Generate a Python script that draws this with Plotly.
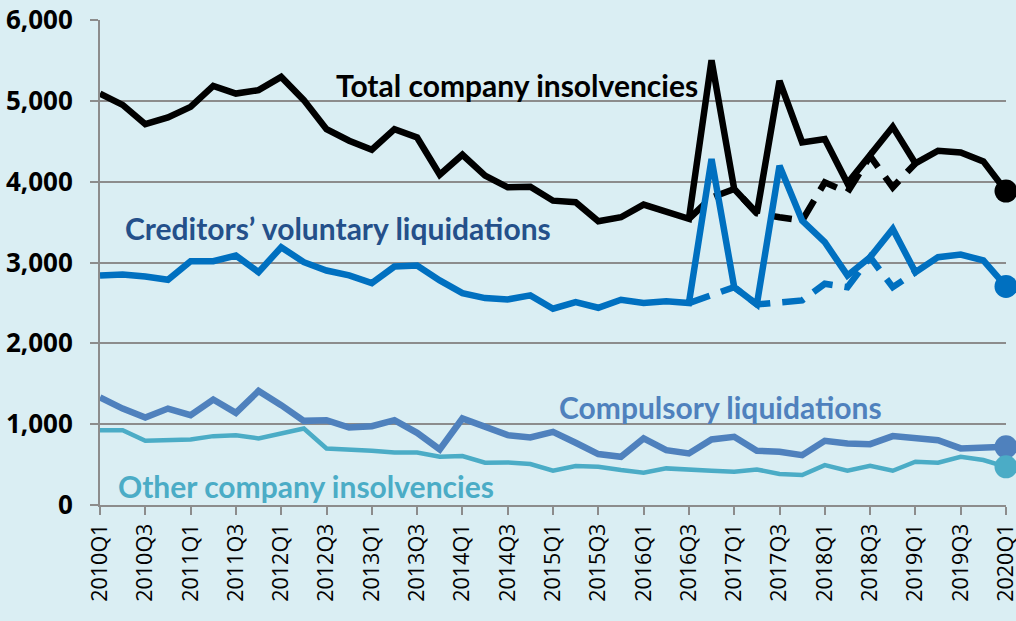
import plotly.graph_objects as go

quarters = ["2010Q1","2010Q2","2010Q3","2010Q4","2011Q1","2011Q2","2011Q3","2011Q4",
            "2012Q1","2012Q2","2012Q3","2012Q4","2013Q1","2013Q2","2013Q3","2013Q4",
            "2014Q1","2014Q2","2014Q3","2014Q4","2015Q1","2015Q2","2015Q3","2015Q4",
            "2016Q1","2016Q2","2016Q3","2016Q4","2017Q1","2017Q2","2017Q3","2017Q4",
            "2018Q1","2018Q2","2018Q3","2018Q4","2019Q1","2019Q2","2019Q3","2019Q4",
            "2020Q1"]

total = [5090, 4950, 4712, 4794, 4926, 5185, 5090, 5132, 5296, 5009, 4650, 4506,
         4395, 4650, 4547, 4086, 4333, 4074, 3930, 3938, 3765, 3745, 3510, 3560,
         3716, 3630, 3540, 5502, 3910, 3609, 5247, 4486, 4527, 3980, 4316, 4679,
         4226, 4383, 4362, 4251, 3883]
total_excl = [None] * 26 + [3540, 3805, 3910, 3609, 3560, 3519, 3992, 3868, 4316, 3930, 4226] + [None] * 4

cvl = [2840, 2852, 2827, 2786, 3016, 3016, 3086, 2880, 3189, 3004, 2901, 2840,
       2745, 2950, 2963, 2778, 2621, 2560, 2543, 2593, 2428, 2510, 2440, 2539,
       2498, 2522, 2498, 4280, 2695, 2481, 4197, 3519, 3251, 2840, 3066, 3416,
       2880, 3066, 3099, 3025, 2704]
cvl_excl = [None] * 26 + [2498, 2593, 2695, 2481, 2510, 2531, 2737, 2695, 3066, 2695, 2880] + [None] * 4

compulsory = [1330, 1193, 1082, 1193, 1111, 1305, 1140, 1411, 1235, 1041, 1049, 959,
              975, 1049, 893, 687, 1070, 975, 864, 835, 905, 770, 630, 597,
              823, 679, 638, 811, 844, 671, 658, 617, 794, 761, 753, 852,
              823, 802, 700, 700, 720]

other = [926, 926, 794, 802, 811, 852, 864, 823, 885, 946, 700, 691,
         671, 650, 650, 597, 605, 523, 527, 506, 424, 481, 473, 432,
         399, 453, 432, 424, 411, 440, 383, 370, 494, 424, 485, 424,
         535, 523, 597, 556, 473]

tick_labels = quarters[::2]
y_ticks = [0, 1000, 2000, 3000, 4000, 5000, 6000]

BLACK = "#000000"
CVL_C = "#0070C0"
CVL_TXT = "#24508A"
COMP_C = "#4F81BD"
OTHER_C = "#4BACC6"
BG = "#DAEEF3"
GRID = "#8C8C8C"

fig = go.Figure()

def add_line(y, color, width, dash="solid"):
    fig.add_trace(go.Scatter(
        x=quarters, y=y, mode="lines",
        line=dict(color=color, width=width, dash=dash),
        connectgaps=False, hoverinfo="skip", showlegend=False))

def add_end(y, color):
    fig.add_trace(go.Scatter(
        x=[quarters[-1]], y=[y[-1]], mode="markers",
        marker=dict(size=23, color=color, opacity=1, line=dict(width=0)),
        cliponaxis=False, hoverinfo="skip", showlegend=False))

add_line(total, BLACK, 6.5)
add_line(total_excl, BLACK, 6.5, dash="22px,12px")
add_line(cvl, CVL_C, 6.5)
add_line(cvl_excl, CVL_C, 6.5, dash="22px,12px")
add_line(compulsory, COMP_C, 6.5)
add_line(other, OTHER_C, 4.5)
add_end(total, BLACK)
add_end(cvl, CVL_C)
add_end(compulsory, COMP_C)
add_end(other, OTHER_C)

ann_font = "Lato"
annotations = [
    dict(x=18.4, y=5200, text="<b>Total company insolvencies</b>", color=BLACK),
    dict(x=10.5, y=3430, text="<b>Creditors’ voluntary liquidations</b>", color=CVL_TXT),
    dict(x=27.4, y=1215, text="<b>Compulsory liquidations</b>", color=COMP_C),
    dict(x=9.1, y=235, text="<b>Other company insolvencies</b>", color=OTHER_C),
]
for a in annotations:
    fig.add_annotation(x=a["x"], y=a["y"], xref="x", yref="y", text=a["text"],
                       showarrow=False, font=dict(family=ann_font, size=30, color=a["color"]))

fig.update_layout(
    width=1016, height=621,
    margin=dict(l=100, r=10, t=20, b=116),
    paper_bgcolor=BG, plot_bgcolor=BG,
    showlegend=False,
    xaxis=dict(
        type="category", categoryorder="array", categoryarray=quarters,
        range=[0, 40], tickmode="array", tickvals=tick_labels, ticktext=tick_labels,
        tickangle=-90, ticks="outside", ticklen=8, tickcolor=GRID, tickwidth=2,
        showline=True, linecolor=GRID, linewidth=2, showgrid=False, zeroline=False,
        automargin=False,
        tickfont=dict(family="Open Sans", size=21.5, color="#000000"),
    ),
    yaxis=dict(
        range=[0, 6000], tickmode="array", tickvals=y_ticks,
        ticktext=[f"{v:,}" for v in y_ticks],
        ticks="outside", ticklen=8, tickcolor=GRID, tickwidth=2,
        showline=True, linecolor=GRID, linewidth=2,
        showgrid=True, gridcolor=GRID, gridwidth=2, zeroline=False,
        automargin=False,
        tickfont=dict(family="Open Sans", size=26, color="#000000", weight="bold"),
        ticklabelstandoff=12,
    ),
)

fig.write_html("out.html",
               config={"displayModeBar": False},
               post_script="document.body.style.margin='0';document.body.style.background='#DAEEF3';")
